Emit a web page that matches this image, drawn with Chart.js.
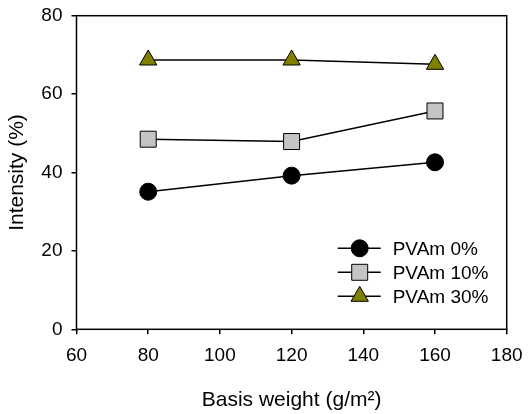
<!DOCTYPE html>
<html lang="en">
<head>
  <meta charset="UTF-8" />
  <title>Intensity vs basis weight</title>
  <style>
    html, body { margin: 0; padding: 0; background: #fff; }
    canvas { display: block; }
  </style>
</head>
<body>
  <canvas id="chart" width="529" height="414"></canvas>

  <script src="https://cdn.jsdelivr.net/npm/chart.js"></script>
  <script>
    // basis weight (g/m2)
    const basisWeight = [80, 120, 160];
    const pvam0 = [35.1, 39.2, 42.6];
    const pvam10 = [48.5, 47.9, 55.7];
    const pvam30 = [68.7, 68.7, 67.6];
    const seriesNames = ['PVAm 0%', 'PVAm 10%', 'PVAm 30%'];

    const FONT = '"Liberation Sans", Arial, sans-serif';

    function toPoints(ys) {
      return basisWeight.map((x, i) => ({ x: x, y: ys[i] }));
    }

    const styles = [
      { pointStyle: 'circle', radius: 8.5, fill: '#000000' },
      { pointStyle: 'rect', radius: 11.3, fill: '#c4c4c4' },
      { pointStyle: 'triangle', radius: 10, fill: '#808000' }
    ];

    // box around the plot area
    const frame = {
      id: 'frame',
      afterDraw(chart) {
        const a = chart.chartArea;
        const ctx = chart.ctx;
        ctx.save();
        ctx.strokeStyle = '#000';
        ctx.lineWidth = 1.5;
        ctx.strokeRect(a.left, a.top, a.right - a.left, a.bottom - a.top);
        ctx.restore();
      }
    };

    // legend inside the lower right of the plot
    const insideLegend = {
      id: 'insideLegend',
      afterDraw(chart) {
        const ctx = chart.ctx;
        const a = chart.chartArea;
        const x0 = a.right - 169;
        const rowY = [a.bottom - 81, a.bottom - 57, a.bottom - 33];
        ctx.save();
        chart.data.datasets.forEach((ds, i) => {
          const y = rowY[i];
          ctx.strokeStyle = '#000';
          ctx.lineWidth = 1.5;
          ctx.beginPath();
          ctx.moveTo(x0, y);
          ctx.lineTo(x0 + 43, y);
          ctx.stroke();
          ctx.fillStyle = ds.pointBackgroundColor;
          ctx.strokeStyle = '#000';
          ctx.lineWidth = 1;
          Chart.helpers.drawPoint(ctx, {
            pointStyle: ds.pointStyle,
            radius: ds.pointRadius,
            rotation: 0,
            borderWidth: 1
          }, x0 + 22, y);
          ctx.fillStyle = '#000';
          ctx.font = '19px ' + FONT;
          ctx.textAlign = 'left';
          ctx.textBaseline = 'middle';
          ctx.fillText(ds.label, x0 + 55, y + 1);
        });
        ctx.restore();
      }
    };

    const datasets = [pvam0, pvam10, pvam30].map((ys, i) => ({
      label: seriesNames[i],
      data: toPoints(ys),
      borderColor: '#000',
      borderWidth: 1.5,
      pointStyle: styles[i].pointStyle,
      pointRadius: styles[i].radius,
      pointBackgroundColor: styles[i].fill,
      pointBorderColor: '#000',
      pointBorderWidth: 1,
      tension: 0,
      fill: false
    }));

    new Chart(document.getElementById('chart').getContext('2d'), {
      type: 'line',
      data: { datasets },
      plugins: [frame, insideLegend],
      options: {
        responsive: false,
        animation: false,
        layout: { padding: { top: 15.7, right: 22.3, bottom: 0, left: 0 } },
        plugins: {
          legend: { display: false },
          tooltip: { enabled: false }
        },
        scales: {
          x: {
            type: 'linear',
            min: 60,
            max: 180,
            afterFit(scale) {
              scale.height = 84.7;
              scale.paddingLeft = 0;
              scale.paddingRight = 0;
            },
            ticks: { stepSize: 20, color: '#000', padding: 10, font: { family: FONT, size: 19 } },
            grid: { drawOnChartArea: false, drawTicks: true, tickLength: 5, color: '#000', lineWidth: 1.5 },
            border: { display: false },
            title: {
              display: true,
              text: 'Basis weight (g/m²)',
              color: '#000',
              font: { family: FONT, size: 21 },
              padding: { top: 0, bottom: 1.5 }
            }
          },
          y: {
            min: 0,
            max: 80,
            afterFit(scale) {
              scale.width = 76.5;
              scale.paddingTop = 0;
              scale.paddingBottom = 0;
            },
            ticks: { stepSize: 20, color: '#000', padding: 9, font: { family: FONT, size: 19 } },
            grid: { drawOnChartArea: false, drawTicks: true, tickLength: 5, color: '#000', lineWidth: 1.5 },
            border: { display: false },
            title: {
              display: true,
              text: 'Intensity (%)',
              color: '#000',
              font: { family: FONT, size: 21 },
              padding: { top: 5, bottom: 0 }
            }
          }
        }
      }
    });
  </script>
</body>
</html>
